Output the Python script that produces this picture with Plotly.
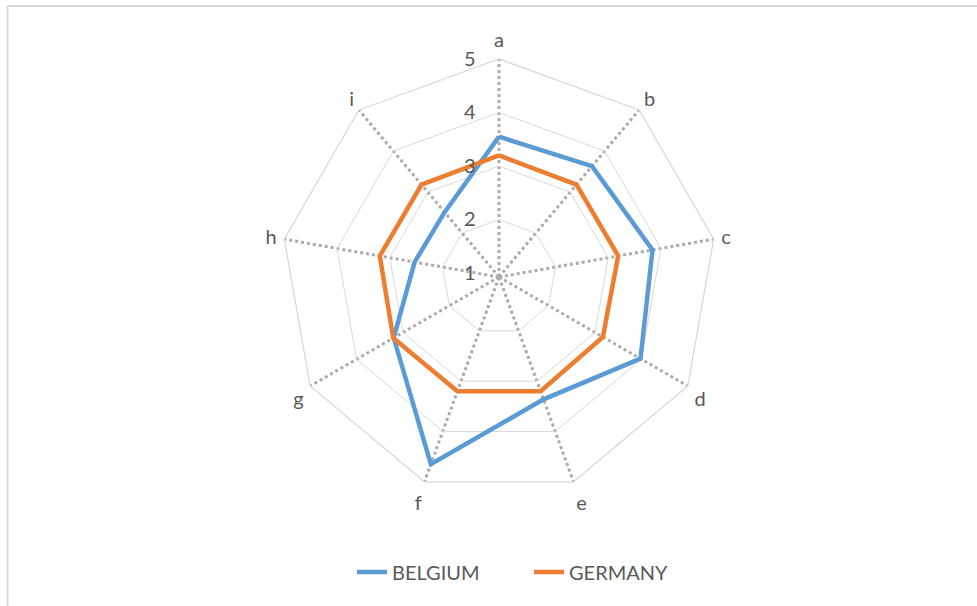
import plotly.graph_objects as go

# 카테고리 및 값
categories = ['a', 'b', 'c', 'd', 'e', 'f', 'g', 'h', 'i']
belgium = [3.55, 3.63, 3.84, 3.98, 3.36, 4.65, 3.2, 2.53, 2.51]
germany = [3.2, 3.18, 3.19, 3.17, 3.2, 3.2, 3.21, 3.19, 3.18]
radial_ticks = [1, 2, 3, 4, 5]

W, H = 977, 606
GRID = '#d9d9d9'
SPOKE = '#ababab'
TEXT = '#595959'
FONT = 'Lato, Open Sans, sans-serif'

fig = go.Figure()

# 닫힌 다각형을 위해 첫 점을 끝에 다시 추가
for name, vals, color in [('BELGIUM', belgium, '#5b9bd5'),
                          ('GERMANY', germany, '#ed7d31')]:
    fig.add_trace(go.Scatterpolar(
        r=vals + vals[:1],
        theta=categories + categories[:1],
        mode='lines',
        name=name,
        line=dict(color=color, width=4.5),
    ))

# 중심 (499, 277), 바깥 반경 218px
cx, cy, rad = 499, 277, 218
fig.update_layout(
    width=W, height=H,
    margin=dict(l=0, r=0, t=0, b=0),
    paper_bgcolor='white',
    plot_bgcolor='white',
    font=dict(family=FONT, color=TEXT, size=19),
    polar=dict(
        domain=dict(x=[(cx - rad) / W, (cx + rad) / W],
                    y=[1 - (cy + rad) / H, 1 - (cy - rad) / H]),
        gridshape='linear',
        bgcolor='white',
        radialaxis=dict(
            range=[0.93, 5],
            tickvals=radial_ticks,
            angle=90,
            tickangle=90,
            side='counterclockwise',
            showline=False,
            ticks='outside',
            ticklen=16,
            tickcolor='rgba(0,0,0,0)',
            gridcolor=GRID,
            gridwidth=1.3,
            tickfont=dict(size=20, color=TEXT),
        ),
        angularaxis=dict(
            direction='clockwise',
            rotation=90,
            showline=True,
            linecolor=GRID,
            linewidth=1.3,
            gridcolor=SPOKE,
            gridwidth=2.5,
            griddash='dot',
            ticks='outside',
            ticklen=3,
            tickcolor='rgba(0,0,0,0)',
            tickfont=dict(size=20, color=TEXT),
        ),
    ),
    showlegend=True,
    legend=dict(
        orientation='h',
        x=352 / W, xanchor='left',
        y=1 - 572 / H, yanchor='middle',
        font=dict(size=20, color=TEXT),
        entrywidth=132,
        entrywidthmode='pixels',
        traceorder='normal',
    ),
    shapes=[
        dict(type='line', xref='paper', yref='paper',
             x0=7.5 / W, x1=1, y0=1 - 6 / H, y1=1 - 6 / H,
             line=dict(color=GRID, width=2)),
        dict(type='line', xref='paper', yref='paper',
             x0=7.5 / W, x1=7.5 / W, y0=0, y1=1 - 6 / H,
             line=dict(color=GRID, width=2)),
    ],
)

# 페이지 기본 여백 제거
fig.write_html('out.html', config={'displayModeBar': False},
               post_script="document.body.style.margin='0';")
